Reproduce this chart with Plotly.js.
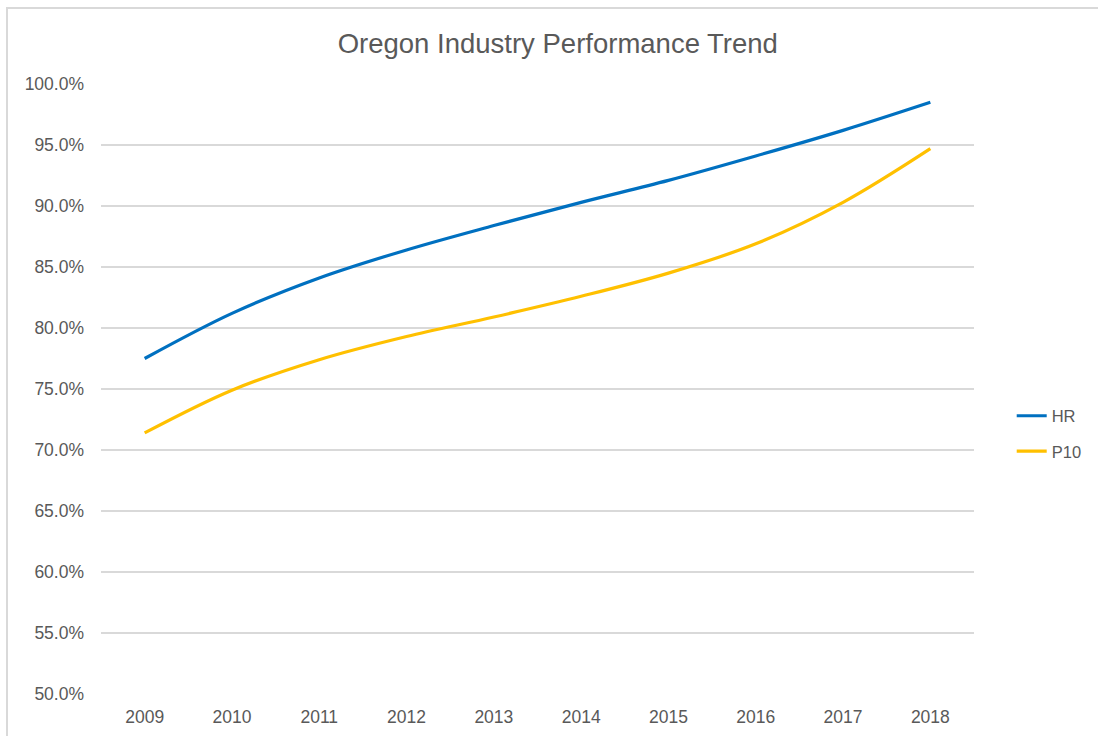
<!DOCTYPE html>
<html>
<head>
<meta charset="utf-8">
<script src="https://cdn.plot.ly/plotly-3.0.1.min.js"></script>
<style>
  html, body { margin: 0; padding: 0; background: #ffffff; overflow: hidden; }
  #frame { position: absolute; left: 6px; top: 7px; width: 1200px; height: 800px;
           border-left: 2px solid #d9d9d9; border-top: 2px solid #d9d9d9; box-sizing: border-box; }
  #chart { position: absolute; left: 0; top: 0; width: 1098px; height: 736px; }
</style>
</head>
<body>
<div id="frame"></div>
<div id="chart"></div>
<script>
const years = ['2009','2010','2011','2012','2013','2014','2015','2016','2017','2018'];
const hrValues  = [0.775, 0.812, 0.841, 0.864, 0.884, 0.903, 0.921, 0.941, 0.962, 0.985];
const p10Values = [0.714, 0.749, 0.774, 0.793, 0.809, 0.826, 0.845, 0.869, 0.903, 0.947];
const seriesNames = ['HR', 'P10'];
const yTicks = [0.50, 0.55, 0.60, 0.65, 0.70, 0.75, 0.80, 0.85, 0.90, 0.95, 1.00];

const fontFam = '"Liberation Sans", Arial, sans-serif';
const textCol = '#595959';

const traces = [
  { x: years, y: hrValues, name: seriesNames[0], type: 'scatter', mode: 'lines',
    legendgroup: 'a',
    line: { color: '#0070C0', width: 3.2, shape: 'spline', smoothing: 1 } },
  { x: years, y: p10Values, name: seriesNames[1], type: 'scatter', mode: 'lines',
    legendgroup: 'b',
    line: { color: '#FFC000', width: 3.2, shape: 'spline', smoothing: 1 } }
];

const layout = {
  width: 1098, height: 736,
  paper_bgcolor: 'rgba(0,0,0,0)', plot_bgcolor: 'rgba(0,0,0,0)',
  margin: { l: 101, r: 123, t: 84, b: 42, pad: 0 },
  font: { family: fontFam, color: textCol, size: 17.5 },
  title: { text: 'Oregon Industry Performance Trend', x: 0.508, xanchor: 'center',
           y: 0.941, yanchor: 'middle', font: { family: fontFam, size: 27.5, color: textCol } },
  xaxis: {
    type: 'category', categoryorder: 'array', categoryarray: years,
    range: [-0.5, 9.5], showgrid: false, zeroline: false, showline: false,
    ticks: '', ticklabelstandoff: 10,
    tickfont: { family: fontFam, size: 17.5, color: textCol }, fixedrange: true
  },
  yaxis: {
    range: [0.5, 1.0], tickvals: yTicks, tickformat: '.1%',
    showgrid: true, gridcolor: '#d9d9d9', gridwidth: 1.5, zeroline: false, showline: false,
    ticks: '', ticklabelstandoff: 16,
    tickfont: { family: fontFam, size: 17.5, color: textCol }, fixedrange: true
  },
  showlegend: true,
  legend: { x: 1.042, xanchor: 'left', y: 0.427, yanchor: 'middle',
            traceorder: 'grouped', tracegroupgap: 11, itemwidth: 30,
            font: { family: fontFam, size: 16.5, color: textCol },
            bgcolor: 'rgba(0,0,0,0)' }
};

Plotly.newPlot('chart', traces, layout, { displayModeBar: false, staticPlot: true });
</script>
</body>
</html>
